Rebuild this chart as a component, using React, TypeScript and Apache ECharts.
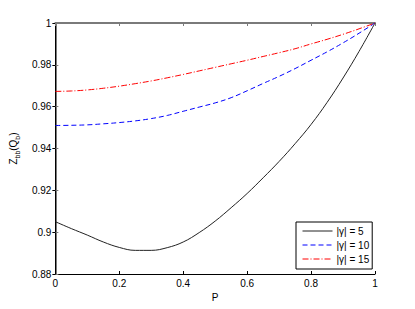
import React, { useEffect, useRef } from "react";
import * as echarts from "echarts";

const pValues = [0, 0.05, 0.1, 0.15, 0.2, 0.25, 0.3, 0.35, 0.4, 0.45, 0.5, 0.55, 0.6, 0.65, 0.7, 0.75, 0.8, 0.85, 0.9, 0.95, 1];
const gamma5 = [0.905, 0.9017, 0.8986, 0.8953, 0.8927, 0.8913, 0.8913, 0.8926, 0.8953, 0.8998, 0.9053, 0.9117, 0.9185, 0.926, 0.9338, 0.9423, 0.9515, 0.962, 0.9737, 0.9864, 1.0];
const gamma10 = [0.951, 0.9511, 0.9513, 0.9518, 0.9524, 0.9532, 0.9543, 0.9558, 0.9578, 0.9598, 0.9618, 0.9643, 0.9676, 0.9711, 0.9745, 0.9782, 0.9822, 0.9862, 0.9905, 0.9951, 1.0];
const gamma15 = [0.9673, 0.9675, 0.968, 0.9688, 0.9698, 0.971, 0.9723, 0.9738, 0.9754, 0.9771, 0.9788, 0.9805, 0.9822, 0.984, 0.9858, 0.9877, 0.99, 0.9922, 0.9946, 0.9972, 1.0];
const seriesNames = ["|γ| = 5", "|γ| = 10", "|γ| = 15"];
const xMin = 0, xMax = 1, xStep = 0.2;
const yMin = 0.88, yMax = 1, yStep = 0.02;

const FONT = "Liberation Sans, Arial, Helvetica, sans-serif";

export default function App() {
  const ref = useRef<HTMLDivElement>(null);
  useEffect(() => {
    if (!ref.current) return;
    const chart = echarts.init(ref.current, undefined, { renderer: "svg" });
    const fmt = (v: number) => String(parseFloat(v.toFixed(2)));
    const pair = (ys: number[]) => pValues.map((p, i) => [p, ys[i]]);
    const grey = "#7a7a7a";
    chart.setOption({
      animation: false,
      backgroundColor: "#fff",
      grid: { left: 53, right: 40, top: 23, bottom: 35, containLabel: false },
      xAxis: [
        {
          type: "value", min: xMin, max: xMax, interval: xStep,
          name: "P", nameLocation: "middle", nameGap: 15,
          nameTextStyle: { fontFamily: FONT, fontSize: 10, color: "#000" },
          axisLine: { show: true, lineStyle: { color: "#000", width: 1 } },
          axisTick: { show: true, inside: true, length: 3, lineStyle: { color: "#000" } },
          axisLabel: { margin: 4, fontFamily: FONT, fontSize: 10, color: "#000", formatter: fmt },
          splitLine: { show: false },
        },
        {
          type: "value", min: xMin, max: xMax, interval: xStep, position: "top",
          axisLine: { show: true, lineStyle: { color: grey, width: 2 } },
          axisTick: { show: true, inside: true, length: 3, lineStyle: { color: grey } },
          axisLabel: { show: false },
          splitLine: { show: false },
        },
      ],
      yAxis: [
        {
          type: "value", min: yMin, max: yMax, interval: yStep,
          name: "{m|Z}{s|bb}{m|(Q}{s|b}{m|)}", nameLocation: "middle", nameGap: 27, nameRotate: 90,
          nameTextStyle: {
            fontFamily: FONT, color: "#000",
            rich: {
              m: { fontFamily: FONT, fontSize: 10, color: "#000", verticalAlign: "bottom", padding: [0, 0, 3, 0] },
              s: { fontFamily: FONT, fontSize: 7, color: "#000", verticalAlign: "bottom" },
            },
          },
          axisLine: { show: true, lineStyle: { color: grey, width: 2 } },
          axisTick: { show: true, inside: true, length: 3, lineStyle: { color: grey } },
          axisLabel: { margin: 4, fontFamily: FONT, fontSize: 10, color: "#000", formatter: fmt },
          splitLine: { show: false },
        },
        {
          type: "value", min: yMin, max: yMax, interval: yStep, position: "right",
          axisLine: { show: true, lineStyle: { color: "#000", width: 1 } },
          axisTick: { show: true, inside: true, length: 3, lineStyle: { color: "#000" } },
          axisLabel: { show: false },
          splitLine: { show: false },
        },
      ],
      legend: {
        left: 296, top: 222, orient: "vertical",
        backgroundColor: "#fff", borderColor: "#000", borderWidth: 1, borderRadius: 0,
        padding: [4, 3, 5, 6], itemGap: 4, itemWidth: 30, itemHeight: 11,
        itemStyle: { opacity: 0 },
        lineStyle: { width: 1 },
        textStyle: { fontFamily: FONT, fontSize: 10, color: "#000", padding: [0, 0, 0, -1] },
        data: seriesNames.map((n) => ({ name: n })),
      },
      series: [
        {
          name: seriesNames[0], type: "line", xAxisIndex: 0, yAxisIndex: 0,
          data: pair(gamma5), symbol: "none", showSymbol: false, smooth: 0.4,
          lineStyle: { color: "#222", width: 1, type: "solid" }, itemStyle: { color: "#222" },
        },
        {
          name: seriesNames[1], type: "line", xAxisIndex: 0, yAxisIndex: 0,
          data: pair(gamma10), symbol: "none", showSymbol: false, smooth: 0.4,
          lineStyle: { color: "#0000ff", width: 1, type: [5, 3] }, itemStyle: { color: "#0000ff" },
        },
        {
          name: seriesNames[2], type: "line", xAxisIndex: 0, yAxisIndex: 0,
          data: pair(gamma15), symbol: "none", showSymbol: false, smooth: 0.4,
          lineStyle: { color: "#ff0000", width: 1, type: [6, 2, 1, 2] }, itemStyle: { color: "#ff0000" },
        },
      ],
    });
    return () => chart.dispose();
  }, []);
  return <div ref={ref} style={{ position: "fixed", left: 0, top: 0, width: 415, height: 309 }} />;
}
